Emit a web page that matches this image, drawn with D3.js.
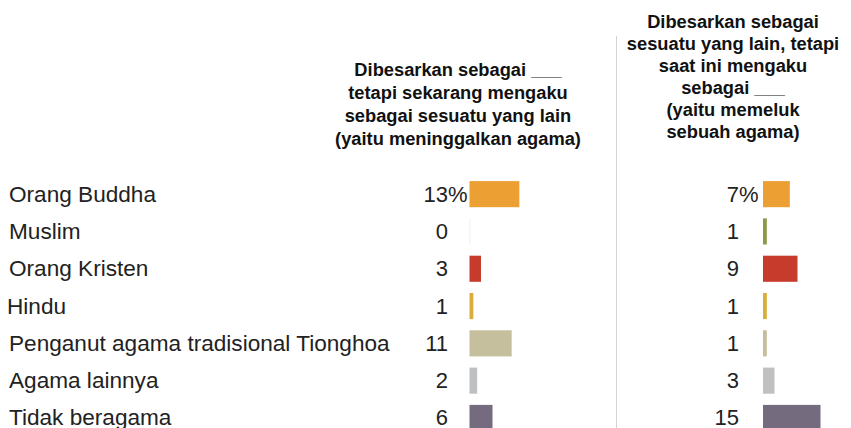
<!DOCTYPE html>
<html>
<head>
<meta charset="utf-8">
<script src="https://cdn.jsdelivr.net/npm/d3@7"></script>
<style>
  body { margin: 0; background: #fff; }
  svg { display: block; }
</style>
</head>
<body>
<svg id="chart" width="851" height="428"></svg>
<script>
var categories = ["Orang Buddha", "Muslim", "Orang Kristen", "Hindu",
    "Penganut agama tradisional Tionghoa", "Agama lainnya", "Tidak beragama"];
var leftValues = [13, 0, 3, 1, 11, 2, 6];   // meninggalkan agama
var rightValues = [7, 1, 9, 1, 1, 3, 15];   // memeluk sebuah agama
var colors = ["#eca033", "#8b9a4a", "#c63b2b", "#d9ae3a", "#c6bf9e", "#bfc0c2", "#756b7f"];

var leftHeader = ["Dibesarkan sebagai ___", "tetapi sekarang mengaku",
    "sebagai sesuatu yang lain", "(yaitu meninggalkan agama)"];
var rightHeader = ["Dibesarkan sebagai", "sesuatu yang lain, tetapi", "saat ini mengaku",
    "sebagai ___", "(yaitu memeluk", "sebuah agama)"];

var FONT = "'Liberation Sans', Arial, sans-serif";

var svg = d3.select("#chart");

var y = d3.scaleBand()
    .domain(categories)
    .range([175.5, 436.6])
    .paddingInner(0.3)
    .paddingOuter(0.15);

var x = d3.scaleLinear().domain([0, 15]).range([0, 57.5]);

// category labels
svg.append("g").selectAll("text")
    .data(categories)
    .enter().append("text")
    .attr("x", function (d) { return d === "Hindu" ? 7 : 9; })
    .attr("y", function (d) { return y(d) + y.bandwidth() / 2 + 7.5; })
    .attr("fill", "#222")
    .style("font", "22.6px " + FONT)
    .text(function (d) { return d; });

// divider between the two panels
svg.append("line")
    .attr("x1", 616.5).attr("x2", 616.5)
    .attr("y1", 36).attr("y2", 428)
    .attr("stroke", "#d4d4d4")
    .attr("stroke-width", 1);

function drawPanel(values, x0, numRight, header, headerX, headerY, lineH) {
    var g = svg.append("g");

    g.append("text")
        .attr("text-anchor", "middle")
        .attr("fill", "#111")
        .style("font", "bold 18.3px " + FONT)
        .selectAll("tspan")
        .data(header)
        .enter().append("tspan")
        .attr("x", headerX)
        .attr("y", function (d, i) { return headerY + i * lineH; })
        .text(function (d) { return d; });

    g.selectAll("rect")
        .data(values)
        .enter().append("rect")
        .attr("x", x0)
        .attr("y", function (d, i) { return y(categories[i]); })
        .attr("width", function (d) { return Math.max(x(d), 0.8); })
        .attr("height", y.bandwidth())
        .attr("fill", function (d, i) { return d === 0 ? "#efece0" : colors[i]; });

    g.selectAll("text.val")
        .data(values)
        .enter().append("text")
        .attr("class", "val")
        .attr("x", numRight)
        .attr("y", function (d, i) { return y(categories[i]) + y.bandwidth() / 2 + 7.5; })
        .attr("fill", "#222")
        .style("font", "22px " + FONT)
        .text(function (d) { return d; })
        .append("tspan")
        .text(function (d, i) { return i === 0 ? "%" : ""; });
}

drawPanel(leftValues, 469.5, 448, leftHeader, 458, 76, 23);
drawPanel(rightValues, 763, 739, rightHeader, 733, 28, 22);

// right-align the numbers so that "%" hangs past the column edge
svg.selectAll("text.val").each(function () {
    var t = d3.select(this);
    var num = this.firstChild.nodeValue;
    var probe = svg.append("text").style("font", t.style("font")).text(num);
    var w = probe.node().getComputedTextLength();
    probe.remove();
    t.attr("x", +t.attr("x") - w);
});
</script>
</body>
</html>
